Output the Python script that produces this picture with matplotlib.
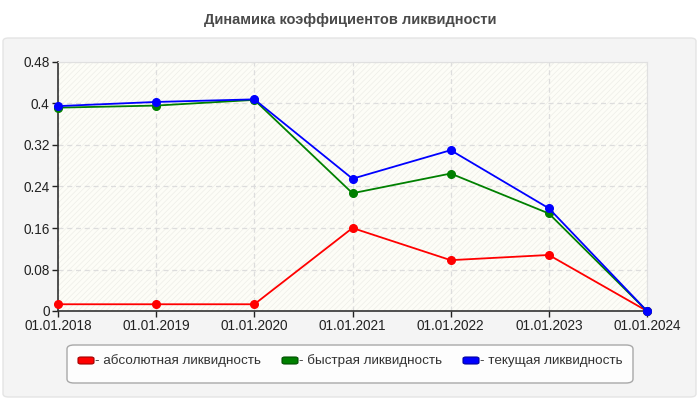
import matplotlib
matplotlib.use("Agg")
import matplotlib.pyplot as plt
from matplotlib.patches import FancyBboxPatch, Rectangle

plt.rcParams['font.family'] = ['Liberation Sans', 'DejaVu Sans']
plt.rcParams['hatch.linewidth'] = 0.5

DATES = ["01.01.2018", "01.01.2019", "01.01.2020", "01.01.2021",
         "01.01.2022", "01.01.2023", "01.01.2024"]
ABS_LIQ = [0.013, 0.013, 0.013, 0.160, 0.098, 0.108, 0.0]
QUICK_LIQ = [0.392, 0.396, 0.407, 0.227, 0.265, 0.188, 0.0]
CURR_LIQ = [0.395, 0.403, 0.408, 0.255, 0.310, 0.198, 0.0]
Y_TICKS = [0, 0.08, 0.16, 0.24, 0.32, 0.4, 0.48]
Y_LABELS = ["0", "0.08", "0.16", "0.24", "0.32", "0.4", "0.48"]

SERIES = [("- абсолютная ликвидность", ABS_LIQ, "#ff0000", "#a00000"),
          ("- быстрая ликвидность", QUICK_LIQ, "#008000", "#004d00"),
          ("- текущая ликвидность", CURR_LIQ, "#0000ff", "#0000a0")]

fig = plt.figure(figsize=(7, 4), dpi=100)
fig.patch.set_facecolor("white")

# серая подложка панели
panel = FancyBboxPatch((3 / 700, 3 / 400), 693 / 700, 359 / 400,
                       boxstyle="round,pad=0,rounding_size=0.008",
                       transform=fig.transFigure, fc="#f4f4f4", ec="#e4e4e4",
                       lw=1, zorder=-10)
fig.patches.append(panel)

fig.text(0.5, 1 - 20 / 400, "Динамика коэффициентов ликвидности",
         ha="center", va="center", fontsize=10.5, fontweight="bold", color="#4a4a4a")

ax = fig.add_axes([58 / 700, 89 / 400, 589 / 700, 249 / 400])
ax.set_facecolor("#fdfdf7")
ax.add_patch(Rectangle((0, 0), 1, 1, transform=ax.transAxes, fill=False,
                       hatch="//////", ec="#eeeee8", lw=0, zorder=0))

x = list(range(len(DATES)))
for label, vals, c, _ in SERIES:
    ax.plot(x, vals, color=c, lw=1.3, marker="o", ms=5.5, mec=c, zorder=3,
            clip_on=False)

ax.set_xlim(0, len(DATES) - 1)
ax.set_ylim(0, 0.48)
ax.set_xticks(x)
ax.set_xticklabels(DATES)
ax.set_yticks(Y_TICKS)
ax.set_yticklabels(Y_LABELS)
ax.tick_params(axis="both", labelsize=9.8, colors="#222222", length=4, width=1, pad=2)
ax.grid(True, ls=(0, (4, 3)), color="#dddddd", lw=0.9)
ax.set_axisbelow(True)
for s in ("top", "right"):
    ax.spines[s].set_color("#e0e0e0")
for s in ("left", "bottom"):
    ax.spines[s].set_color("#333333")
    ax.spines[s].set_linewidth(1.2)

# легенда
leg_box = FancyBboxPatch((67 / 700, 17 / 400), 566 / 700, 38 / 400,
                         boxstyle="round,pad=0,rounding_size=0.01",
                         transform=fig.transFigure, fc="#fdfdfd", ec="#a8a8a8",
                         lw=1, zorder=1)
fig.patches.append(leg_box)
leg_x = [78, 282, 463]
for (label, _, c, ec), lx in zip(SERIES, leg_x):
    sw = FancyBboxPatch((lx / 700, 36 / 400), 16 / 700, 7 / 400,
                        boxstyle="round,pad=0,rounding_size=0.004",
                        transform=fig.transFigure, fc=c, ec=ec, lw=0.8, zorder=2)
    fig.patches.append(sw)
    fig.text((lx + 17) / 700, 39 / 400, label, ha="left", va="center",
             fontsize=9.7, color="#333333")

fig.savefig("out.png", dpi=100, facecolor=fig.get_facecolor())
